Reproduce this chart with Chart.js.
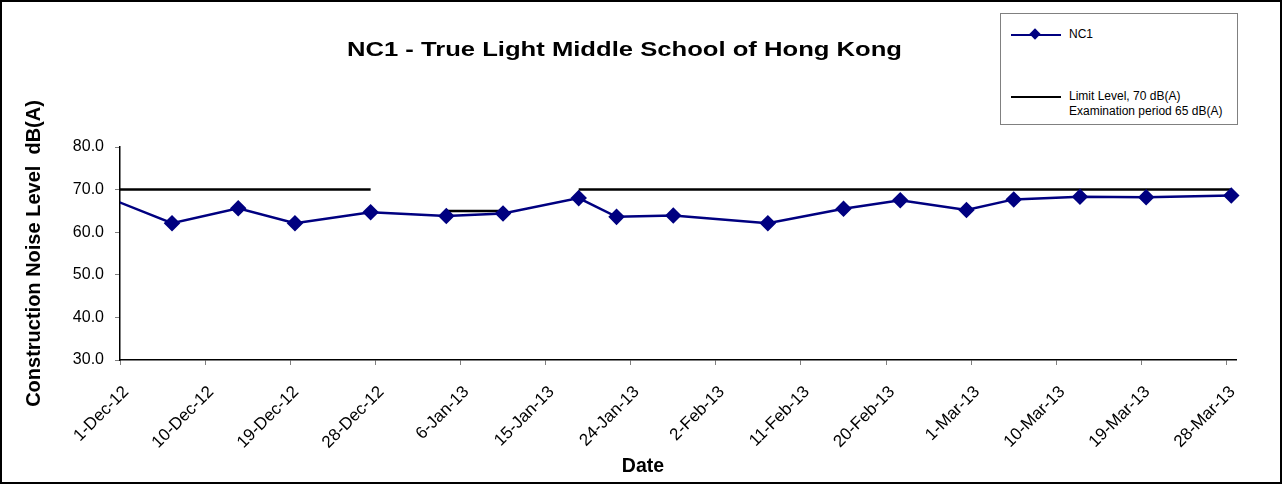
<!DOCTYPE html>
<html>
<head>
<meta charset="utf-8">
<script src="https://cdn.jsdelivr.net/npm/chart.js@4/dist/chart.umd.min.js"></script>
<style>
  html, body { margin: 0; padding: 0; background: #fff; }
  #wrap { position: relative; width: 1282px; height: 484px; box-sizing: border-box; border: 2px solid #000; background: #fff; font-family: "Liberation Sans", Arial, sans-serif; }
  #c { position: absolute; left: -2px; top: -2px; }
  #title { position: absolute; left: 0; width: 1244px; top: 35px; text-align: center; font: bold 21px "Liberation Sans", Arial, sans-serif; white-space: nowrap; }
  #title span { display: inline-block; transform: scaleX(1.22); }
  #legend { position: absolute; left: 998px; top: 11px; width: 238px; height: 112px; border: 1px solid #808080; background: #fff; box-sizing: border-box; font-size: 12px; color: #000; }
  .row { position: absolute; left: 10px; }
  .sample { position: absolute; top: 0; width: 50px; height: 0; }
  .lbl { position: absolute; left: 58px; line-height: 15px; white-space: nowrap; }
  #xtitle { position: absolute; left: 0; width: 1282px; top: 452px; text-align: center; font: bold 19.5px "Liberation Sans", Arial, sans-serif; }
</style>
</head>
<body>
<div id="wrap">
  <canvas id="c" width="1282" height="484"></canvas>
  <div id="title"><span>NC1 - True Light Middle School of Hong Kong</span></div>
  <div id="legend">
    <div class="row" style="top:21px;">
      <div class="sample" style="border-top:2px solid #000080; top:-1px;"></div>
      <div style="position:absolute; left:20px; top:-5px; width:8px; height:8px; background:#000080; transform:rotate(45deg);"></div>
      <div class="lbl" style="top:-8px;">NC1</div>
    </div>
    <div class="row" style="top:83px;">
      <div class="sample" style="border-top:2px solid #000; top:-1px;"></div>
      <div class="lbl" style="top:-8px;">Limit Level, 70 dB(A)<br>Examination period 65 dB(A)</div>
    </div>
  </div>
  <div id="xtitle">Date</div>
</div>
<script>
// ---- data ----
const axisStart = '2012-12-01';
const tickLabels = ['1-Dec-12','10-Dec-12','19-Dec-12','28-Dec-12','6-Jan-13','15-Jan-13','24-Jan-13','2-Feb-13','11-Feb-13','20-Feb-13','1-Mar-13','10-Mar-13','19-Mar-13','28-Mar-13'];
const dates = ['2012-11-29','2012-12-06','2012-12-13','2012-12-19','2012-12-27','2013-01-04','2013-01-10','2013-01-18','2013-01-22','2013-01-28','2013-02-07','2013-02-15','2013-02-21','2013-02-28','2013-03-05','2013-03-12','2013-03-19','2013-03-28'];
const nc1 = [68.3, 62.1, 65.6, 62.1, 64.7, 63.8, 64.4, 68.0, 63.6, 63.9, 62.1, 65.5, 67.5, 65.2, 67.7, 68.3, 68.2, 68.6];
const limit = [70, 70, 70, 70, 70, 65, 65, 70, 70, 70, 70, 70, 70, 70, 70, 70, 70, 70];

// ---- helpers ----
const DAY = 86400000;
const t0 = Date.parse(axisStart + 'T00:00:00Z');
// Excel "between tick marks": each date sits in the middle of its day
const xs = dates.map(d => (Date.parse(d + 'T00:00:00Z') - t0) / DAY + 0.5);
const nc1Pts = xs.map((x, i) => ({x, y: nc1[i]}));
const limPts = xs.map((x, i) => ({x, y: limit[i]}));

const PL = 8, PT = 147, PR = 46, PB = 8, AXIS_Y = 360;
const font = "'Liberation Sans', Arial, sans-serif";

new Chart(document.getElementById('c'), {
  type: 'line',
  data: {
    datasets: [
      { label: 'NC1', data: nc1Pts, borderColor: '#000080', backgroundColor: '#000080', borderWidth: 2.5,
        pointStyle: 'rectRot', pointRadius: 6.5, pointHoverRadius: 6.5, tension: 0, clip: {left: 0, right: 8, top: 8, bottom: 0} },
      { label: 'Limit Level, 70 dB(A) Examination period 65 dB(A)', data: limPts, borderColor: '#000', borderWidth: 2.5,
        pointRadius: 0, tension: 0, clip: {left: 0, right: 8, top: 8, bottom: 0},
        segment: { borderColor: c => (c.p0.parsed.y !== c.p1.parsed.y ? 'rgba(0,0,0,0)' : '#000') } }
    ]
  },
  options: {
    responsive: false, animation: false, events: [],
    layout: { padding: { left: PL, top: PT, right: PR, bottom: PB } },
    plugins: { legend: { display: false }, tooltip: { enabled: false }, title: { display: false } },
    scales: {
      x: {
        type: 'linear', min: 0, max: 118,
        afterBuildTicks: s => { s.ticks = tickLabels.map((_, i) => ({ value: i * 9 })); },
        afterFit: s => { s.height = 484 - PB - AXIS_Y; },
        ticks: { autoSkip: false, maxRotation: 45, minRotation: 45, color: '#000', padding: 17, labelOffset: 6,
                 font: { family: font, size: 17 }, callback: (v) => tickLabels[Math.round(v / 9)] },
        grid: { drawOnChartArea: false, tickLength: 5, color: '#808080', lineWidth: 1 },
        border: { color: '#000', width: 1.5 }
      },
      y: {
        min: 30, max: 80,
        afterFit: s => { s.width = 120 - PL; },
        ticks: { stepSize: 10, color: '#000', padding: 11, font: { family: font, size: 16 }, callback: v => v.toFixed(1) },
        grid: { drawOnChartArea: false, tickLength: 5, color: '#808080', lineWidth: 1 },
        border: { color: '#000', width: 1.5 },
        title: { display: true, text: 'Construction Noise Level  dB(A)', color: '#000',
                 font: { family: font, size: 20, weight: 'bold' }, padding: { top: 14, bottom: 0 } }
      }
    }
  }
});
</script>
</body>
</html>
